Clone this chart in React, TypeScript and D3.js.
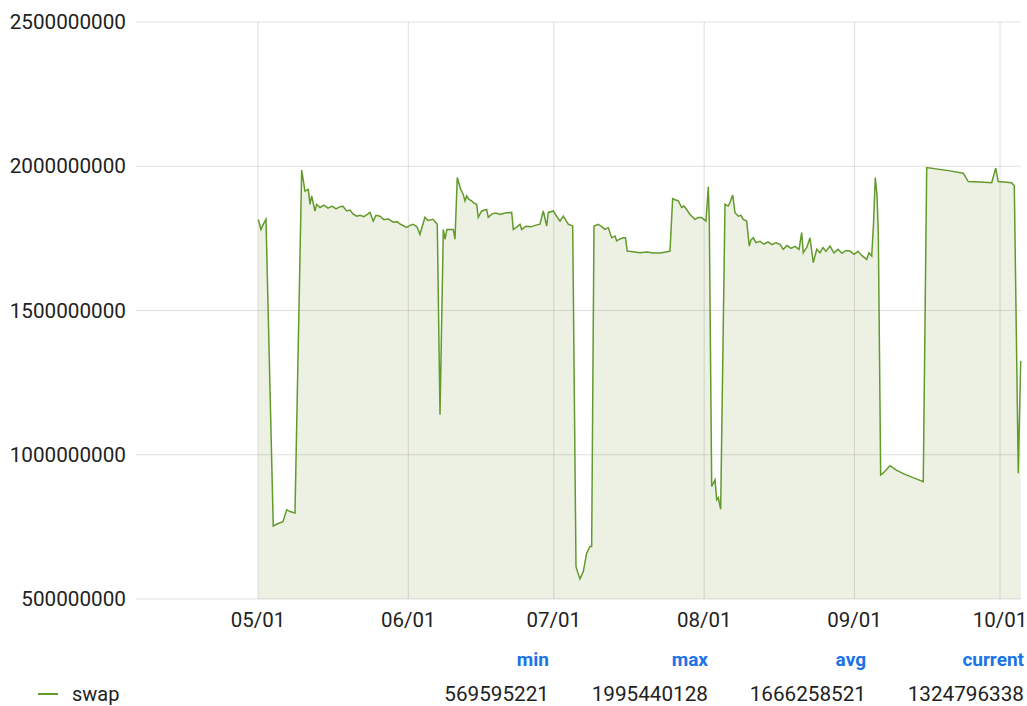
import React from 'react'
import * as d3 from 'd3'

// swap usage, day offsets counted from 05/01
const startDay = Date.UTC(2019, 4, 1)
const dayOffsets = [
  0.06, 0.62, 1.13, 1.65, 3.15, 3.92, 5.15, 5.92, 6.6, 7.63,
  9.01, 9.69, 10.37, 10.72, 11.07, 11.75, 12.1, 12.78, 13.61, 14.43,
  15.26, 16.08, 16.91, 17.53, 18.29, 18.97, 19.59, 20.35, 21.03, 21.86,
  22.47, 23.09, 23.77, 24.33, 25.15, 25.98, 26.8, 27.9, 28.66, 29.48,
  30.66, 31.34, 31.96, 32.78, 33.4, 34.43, 35.05, 36.08, 36.97, 37.53,
  38.21, 38.56, 38.97, 40.27, 40.62, 41.09, 41.79, 42.27, 42.68, 43.03,
  43.51, 44.06, 44.54, 45.09, 45.42, 46.12, 47.15, 47.48, 48.25, 49.07,
  49.9, 50.93, 52.31, 52.64, 53.4, 54.02, 54.37, 55.26, 56.29, 57.32,
  58.14, 58.82, 59.53, 59.86, 60.89, 61.44, 62.27, 62.95, 63.98, 64.89,
  65.57, 65.98, 66.39, 67.07, 67.77, 68.45, 68.8, 69.28, 70.16, 70.93,
  71.55, 72.23, 72.93, 73.61, 73.96, 74.64, 75.32, 75.77, 76.14, 77.32,
  78.76, 80.21, 81.44, 82.89, 84.12, 84.95, 85.5, 85.98, 86.66, 87.36,
  87.84, 88.39, 89.07, 90.1, 90.72, 91.48, 92.37, 92.85, 93.05, 93.55,
  94.23, 94.58, 94.91, 95.4, 96.29, 96.97, 97.32, 97.88, 98.35, 99.03,
  99.59, 100.06, 100.76, 101.3, 101.65, 102.12, 102.68, 103.51, 104.33, 105.15,
  105.98, 106.8, 107.63, 108.31, 109.07, 109.9, 110.72, 111.55, 112.1, 112.43,
  113.2, 113.81, 114.49, 115.2, 115.88, 116.49, 117.11, 117.94, 118.76, 119.59,
  120.41, 121.24, 122.06, 122.89, 123.71, 124.54, 125.51, 125.98, 126.54, 126.91,
  127.28, 127.63, 127.9, 128.39, 128.93, 130.31, 131.69, 133.4, 135.46, 137.17,
  137.88, 142.68, 145.42, 146.45, 148.87, 151.28, 152.1, 152.64, 155.4, 155.94,
  156.76, 157.26,
]
const swapValues = [
  1.816e9, 1.781e9, 1.8e9, 1.816e9, 0.753e9, 0.76e9, 0.768e9, 0.809e9, 0.803e9, 0.798e9,
  1.987e9, 1.914e9, 1.92e9, 1.868e9, 1.897e9, 1.845e9, 1.868e9, 1.857e9, 1.865e9, 1.855e9,
  1.862e9, 1.852e9, 1.86e9, 1.861e9, 1.845e9, 1.848e9, 1.835e9, 1.827e9, 1.83e9, 1.825e9,
  1.832e9, 1.84e9, 1.81e9, 1.83e9, 1.827e9, 1.815e9, 1.818e9, 1.806e9, 1.808e9, 1.798e9,
  1.788e9, 1.795e9, 1.799e9, 1.79e9, 1.764e9, 1.823e9, 1.812e9, 1.816e9, 1.799e9, 1.139e9,
  1.781e9, 1.747e9, 1.781e9, 1.781e9, 1.747e9, 1.961e9, 1.92e9, 1.905e9, 1.88e9, 1.897e9,
  1.885e9, 1.88e9, 1.872e9, 1.868e9, 1.823e9, 1.845e9, 1.85e9, 1.823e9, 1.835e9, 1.838e9,
  1.833e9, 1.838e9, 1.84e9, 1.781e9, 1.79e9, 1.799e9, 1.781e9, 1.792e9, 1.79e9, 1.796e9,
  1.799e9, 1.845e9, 1.793e9, 1.84e9, 1.845e9, 1.83e9, 1.81e9, 1.827e9, 1.799e9, 1.793e9,
  0.612e9, 0.59e9, 0.5696e9, 0.595e9, 0.659e9, 0.682e9, 0.682e9, 1.793e9, 1.799e9, 1.79e9,
  1.781e9, 1.787e9, 1.752e9, 1.758e9, 1.741e9, 1.748e9, 1.752e9, 1.752e9, 1.706e9, 1.704e9,
  1.7e9, 1.703e9, 1.699e9, 1.699e9, 1.703e9, 1.706e9, 1.888e9, 1.884e9, 1.88e9, 1.857e9,
  1.862e9, 1.85e9, 1.833e9, 1.816e9, 1.822e9, 1.822e9, 1.81e9, 1.929e9, 1.815e9, 0.89e9,
  0.913e9, 0.844e9, 0.851e9, 0.811e9, 1.868e9, 1.862e9, 1.875e9, 1.9e9, 1.839e9, 1.827e9,
  1.83e9, 1.816e9, 1.81e9, 1.723e9, 1.745e9, 1.752e9, 1.735e9, 1.74e9, 1.73e9, 1.738e9,
  1.728e9, 1.735e9, 1.729e9, 1.712e9, 1.725e9, 1.715e9, 1.722e9, 1.712e9, 1.77e9, 1.7e9,
  1.72e9, 1.752e9, 1.666e9, 1.712e9, 1.7e9, 1.718e9, 1.705e9, 1.723e9, 1.7e9, 1.712e9,
  1.698e9, 1.708e9, 1.706e9, 1.695e9, 1.705e9, 1.69e9, 1.677e9, 1.7e9, 1.689e9, 1.8e9,
  1.961e9, 1.9e9, 1.77e9, 0.93e9, 0.937e9, 0.962e9, 0.946e9, 0.932e9, 0.918e9, 0.907e9,
  1.9954e9, 1.984e9, 1.976e9, 1.947e9, 1.945e9, 1.943e9, 1.993e9, 1.947e9, 1.943e9, 1.932e9,
  0.936e9, 1.3248e9,
]
const yTicks = [500000000, 1000000000, 1500000000, 2000000000, 2500000000]
const statNames = ['min', 'max', 'avg', 'current']
const statValues = ['569595221', '1995440128', '1666258521', '1324796338']
const seriesName = 'swap'

const DAY = 86400000
const font = 'Roboto, sans-serif'
const lineColor = '#629a2c'

const App = () => {
  const points = dayOffsets.map((d, i) => ({
    date: new Date(startDay + d * DAY),
    value: swapValues[i],
  }))
  const x = d3
    .scaleUtc()
    .domain([new Date(startDay - 25.15 * DAY), new Date(startDay + 157.26 * DAY)])
    .range([136, 1020.7])
  const y = d3.scaleLinear().domain([500000000, 2500000000]).range([599, 22])
  const monthTicks = d3.utcMonth.range(new Date(startDay), x.domain()[1])
  const fmt = d3.utcFormat('%m/%d')

  const area = d3
    .area<{date: Date; value: number}>()
    .x(d => x(d.date))
    .y0(y(500000000))
    .y1(d => y(d.value))
  const line = d3
    .line<{date: Date; value: number}>()
    .x(d => x(d.date))
    .y(d => y(d.value))

  const statX = [549, 708, 866, 1024]

  return (
    <svg
      width={1027}
      height={706}
      style={{position: 'absolute', left: 0, top: 0}}
      fontFamily={font}
    >
      <rect width={1027} height={706} fill="#fff" />
      <path d={area(points)} fill="#ecf1e4" />
      {yTicks.map(t => (
        <g key={t}>
          <line x1={136} x2={1021} y1={y(t)} y2={y(t)} stroke="rgba(60,30,30,0.14)" />
          <text x={126} y={y(t)} dy="0.35em" textAnchor="end" fontSize={20.7} fill="#222">
            {t}
          </text>
        </g>
      ))}
      {monthTicks.map(m => (
        <g key={m.getTime()}>
          <line x1={x(m)} x2={x(m)} y1={22} y2={599} stroke="rgba(60,30,30,0.14)" />
          <text x={x(m)} y={627} textAnchor="middle" fontSize={20.5} fill="#222">
            {fmt(m)}
          </text>
        </g>
      ))}
      <path d={line(points)} fill="none" stroke={lineColor} strokeWidth={1.5} />

      <line x1={38} x2={58} y1={694} y2={694} stroke={lineColor} strokeWidth={2} />
      <text x={72} y={701} fontSize={20} fill="#222">
        {seriesName}
      </text>
      {statNames.map((s, i) => (
        <g key={s}>
          <text x={statX[i]} y={666} textAnchor="end" fontSize={19} fontWeight="bold" fill="#1a73e8">
            {s}
          </text>
          <text x={statX[i]} y={701} textAnchor="end" fontSize={20.7} fill="#222">
            {statValues[i]}
          </text>
        </g>
      ))}
    </svg>
  )
}

export default App
